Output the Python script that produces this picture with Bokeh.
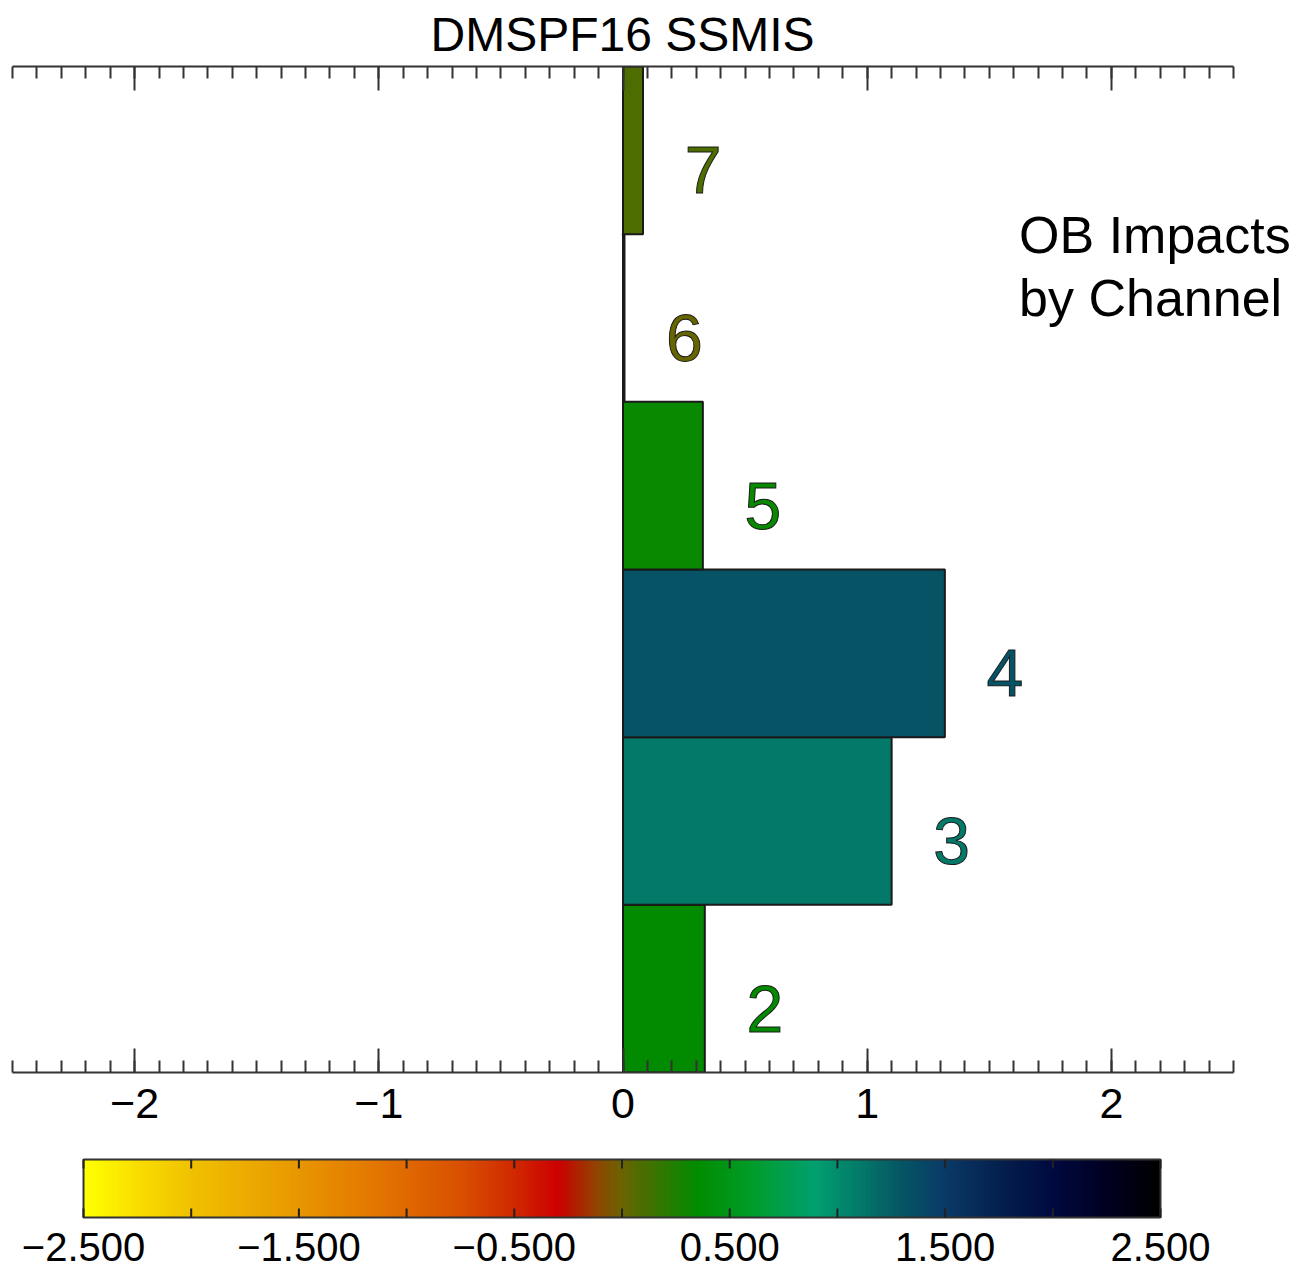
import numpy as np
from bokeh.plotting import figure
from bokeh.models import (Range1d, LinearAxis, FixedTicker, LinearColorMapper,
                          ColumnDataSource, Label, CustomJSTickFormatter)
from bokeh.layouts import column
from bokeh.embed import file_html
from bokeh.resources import INLINE
from bokeh.core.properties import value

# ---------------- data ----------------
channels = [2, 3, 4, 5, 6, 7]
channel_labels = ["2", "3", "4", "5", "6", "7"]
impacts = [0.335, 1.100, 1.318, 0.327, 0.006, 0.082]

x_ticks = [-2, -1, 0, 1, 2]
x_tick_labels = ["\u22122", "\u22121", "0", "1", "2"]

cbar_ticks = [-2.5, -2.0, -1.5, -1.0, -0.5, 0.0, 0.5, 1.0, 1.5, 2.0, 2.5]
cbar_label_values = [-2.5, -1.5, -0.5, 0.5, 1.5, 2.5]
cbar_labels = ["\u22122.500", "\u22121.500", "\u22120.500", "0.500", "1.500", "2.500"]

# colour table anchors (value -> colour)
anchor_values = [-2.5, -2.25, -2.0, -1.5, -1.0, -0.75, -0.5, -0.3, -0.1, 0.0,
                 0.1, 0.35, 0.6, 0.9, 1.1, 1.3, 1.5, 1.75, 2.0, 2.25, 2.5]
anchor_colors = ["#ffff00", "#f8dc00", "#f0c000", "#e89600", "#e06800", "#d85000",
                 "#d02800", "#cc0000", "#8a4a00", "#6a6400", "#4a6e00", "#008c00",
                 "#009c28", "#00a070", "#037a6a", "#045663", "#0a3a68", "#04204e",
                 "#000a40", "#000022", "#000000"]

FONT = "Liberation Sans"
LO, HI = -2.5, 2.5

# ---------------- palette ----------------
def hex2rgb(h):
    h = h.lstrip("#")
    return [int(h[i:i + 2], 16) for i in (0, 2, 4)]

grid = np.linspace(LO, HI, 256)
rgb = np.array([hex2rgb(c) for c in anchor_colors], dtype=float)
chan = [np.interp(grid, anchor_values, rgb[:, k]) for k in range(3)]
palette = ["#%02x%02x%02x" % (int(round(r)), int(round(g)), int(round(b)))
           for r, g, b in zip(*chan)]
mapper = LinearColorMapper(palette=palette, low=LO, high=HI)

# ---------------- layout geometry (pixels) ----------------
FRAME_W = 1279          # whole frame width (axis + right-hand note area)
AXIS_W = 1221           # pixel length of the -2.5..2.5 axis
x_end = HI + (FRAME_W - AXIS_W) * (HI - LO) / AXIS_W

# ---------------- main figure ----------------
src = ColumnDataSource(dict(channel=channels, impact=impacts, label=channel_labels))

p = figure(frame_width=FRAME_W, frame_height=1006,
           x_range=Range1d(LO, x_end), y_range=Range1d(1.5, 7.5),
           x_axis_location=None, y_axis_location=None,
           min_border_left=12, min_border_right=0, min_border_top=66, min_border_bottom=68,
           output_backend="svg", toolbar_location=None)
p.outline_line_color = None
p.xgrid.visible = False
p.ygrid.visible = False

p.title.text = "DMSPF16 SSMIS"
p.title.align = "left"
p.title.offset = 418
p.title.standoff = 11
p.title.text_font = FONT
p.title.text_font_size = "48px"
p.title.text_font_style = "normal"
p.title.text_color = "black"

minor = [round(v, 1) for v in np.arange(LO, HI + 0.0001, 0.1)]

def make_axis(labels=True):
    ax = LinearAxis(ticker=FixedTicker(ticks=x_ticks, minor_ticks=minor),
                    bounds=(LO, HI),
                    major_tick_in=24, major_tick_out=0,
                    minor_tick_in=12, minor_tick_out=0,
                    axis_line_width=2, axis_line_color="#333333",
                    major_tick_line_width=2, major_tick_line_color="#333333",
                    minor_tick_line_width=2, minor_tick_line_color="#333333",
                    major_label_text_font=FONT, major_label_text_font_size="43px",
                    major_label_text_color="black", major_label_standoff=16)
    if labels:
        ax.major_label_overrides = {float(t): s for t, s in zip(x_ticks, x_tick_labels)}
    else:
        ax.formatter = CustomJSTickFormatter(code="return ''")
        ax.major_label_standoff = 0
        ax.major_label_text_font_size = "1px"
    return ax

p.add_layout(make_axis(True), "below")
p.add_layout(make_axis(False), "above")

p.hbar(y="channel", left=0, right="impact", height=1.0, source=src,
       fill_color={"field": "impact", "transform": mapper},
       line_color="#1a1a1a", line_width=2)

p.text(x="impact", y="channel", text="label", source=src,
       x_offset=60, y_offset=20, text_align="center", text_baseline="middle",
       text_font=value(FONT), text_font_size="66px",
       text_color={"field": "impact", "transform": mapper},
       text_outline_color="#1a1a1a")

p.add_layout(Label(x=1.622, y=7.5, y_offset=-168, text="OB Impacts",
                   text_align="left", text_baseline="alphabetic",
                   text_font=FONT, text_font_size="52px", text_color="black"))
p.add_layout(Label(x=1.622, y=7.5, y_offset=-231, text="by Channel",
                   text_align="left", text_baseline="alphabetic",
                   text_font=FONT, text_font_size="52px", text_color="black"))

# ---------------- colour bar ----------------
CB_LEFT = 71            # px from frame left to colour-bar start
CB_W = 1077             # colour-bar length in px
CB_H = 58               # colour-bar height in px
CB_PAD_TOP = 2          # px between frame top and colour-bar top
CB_FRAME_H = 114        # frame height (bar + label strip)
LABEL_MID_DROP = 87     # px from bar top down to label centre
TICK_PX = 9

cb_scale = (HI - LO) / CB_W
cb_x0 = LO - CB_LEFT * cb_scale
cb_x1 = HI + (FRAME_W - CB_LEFT - CB_W) * cb_scale
y_top = 1 + CB_PAD_TOP / CB_H
y_bot = y_top - CB_FRAME_H / CB_H

cb = figure(frame_width=FRAME_W, frame_height=CB_FRAME_H,
            x_range=Range1d(cb_x0, cb_x1), y_range=Range1d(y_bot, y_top),
            x_axis_location=None, y_axis_location=None,
            min_border_left=12, min_border_right=0, min_border_top=17, min_border_bottom=0,
            output_backend="svg", toolbar_location=None)
cb.xgrid.visible = False
cb.ygrid.visible = False
cb.outline_line_color = None
cb.image(image=[grid.reshape(1, -1)], x=LO, y=0, dw=HI - LO, dh=1, color_mapper=mapper)
cb.quad(left=[LO], right=[HI], bottom=[0], top=[1], fill_color=None,
        line_color="#333333", line_width=2)

tick_len = TICK_PX / CB_H
nt = len(cbar_ticks)
cb.segment(x0=cbar_ticks, x1=cbar_ticks, y0=[0] * nt, y1=[tick_len] * nt,
           line_color="#222222", line_width=2)
cb.segment(x0=cbar_ticks, x1=cbar_ticks, y0=[1] * nt, y1=[1 - tick_len] * nt,
           line_color="#222222", line_width=2)

nl = len(cbar_label_values)
cb.text(x=cbar_label_values, y=[1 - LABEL_MID_DROP / CB_H] * nl, text=cbar_labels,
        text_align="center", text_baseline="middle",
        text_font=value(FONT), text_font_size="40px", text_color="black")

layout = column(p, cb, spacing=0)
open("out.html", "w").write(file_html(layout, INLINE))
